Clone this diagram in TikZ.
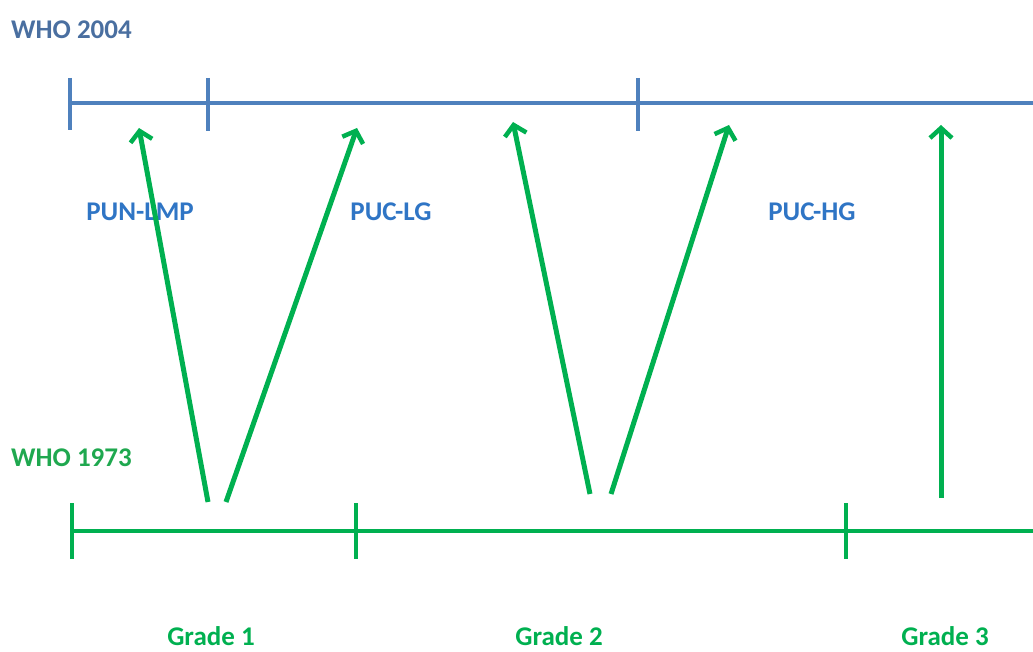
\documentclass[tikz,border=0pt]{standalone}
\usepackage{fontspec}
\setmainfont{Carlito}
\usetikzlibrary{arrows.meta}
\definecolor{whoblue}{HTML}{4F81BD}
\definecolor{titleblue}{HTML}{4A6FA0}
\definecolor{lblblue}{HTML}{2F75C5}
\definecolor{whogreen}{HTML}{00B050}
\definecolor{titlegreen}{HTML}{1FA84F}
\begin{document}
\begin{tikzpicture}[x=1pt,y=-1pt,
  bline/.style={whoblue,line width=4.5pt},
  gline/.style={whogreen,line width=4.5pt},
  garrow/.style={whogreen,line width=5pt,-{Straight Barb[length=10pt,width=22pt,line width=4.5pt]}},
  lbl/.style={font=\bfseries\fontsize{27}{30}\selectfont,inner sep=0pt},
  title/.style={lbl,anchor=west}]
\useasboundingbox (0,0) rectangle (1033,652);
% WHO 2004 scale
\coordinate (b0) at (68,103);
\coordinate (b1) at (1033,103);
\draw[bline] (b0) -- (b1);
\draw[bline] (70,78) -- (70,130);
\draw[bline] (208,78) -- (208,131);
\draw[bline] (638,78) -- (638,131);
% WHO 1973 scale
\coordinate (g0) at (70,531);
\coordinate (g1) at (1033,531);
\draw[gline] (g0) -- (g1);
\draw[gline] (72,503) -- (72,559);
\draw[gline] (356,503) -- (356,559);
\draw[gline] (846,503) -- (846,559);
% labels
\node[title,text=titleblue] (t2004) at (11,30) {WHO 2004};
\node[title,text=titlegreen] (t1973) at (11,458) {WHO 1973};
\node[lbl,text=lblblue] (pun) at (140,212) {PUN-LMP};
\node[lbl,text=lblblue] (puclg) at (391,212) {PUC-LG};
\node[lbl,text=lblblue] (puchg) at (812,212) {PUC-HG};
\node[lbl,text=whogreen] (gr1) at (211,636) {Grade 1};
\node[lbl,text=whogreen] (gr2) at (559,636) {Grade 2};
\node[lbl,text=whogreen] (gr3) at (945,636) {Grade 3};
% arrows
\coordinate (a1s) at (208,502); \coordinate (a1e) at (139,128);
\coordinate (a2s) at (226,502); \coordinate (a2e) at (357,128);
\coordinate (a3s) at (590,494); \coordinate (a3e) at (513,122);
\coordinate (a4s) at (611,494); \coordinate (a4e) at (729,125);
\coordinate (a5s) at (941,498); \coordinate (a5e) at (941,125);
\draw[garrow] (a1s) -- (a1e);
\draw[garrow] (a2s) -- (a2e);
\draw[garrow] (a3s) -- (a3e);
\draw[garrow] (a4s) -- (a4e);
\draw[garrow] (a5s) -- (a5e);
\end{tikzpicture}
\end{document}
